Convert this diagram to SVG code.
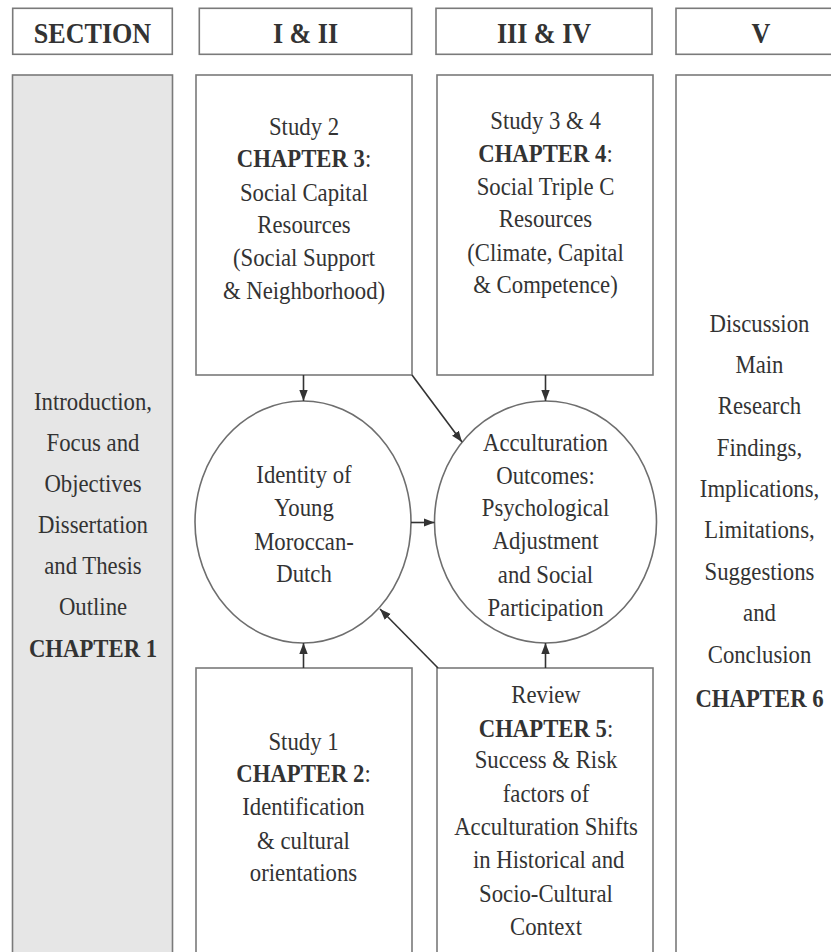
<svg xmlns="http://www.w3.org/2000/svg" width="831" height="952" viewBox="0 0 831 952">
<style>
.box{fill:#fff;stroke:#7a7a7a;stroke-width:1.6}
.grey{fill:#e6e6e6;stroke:#7a7a7a;stroke-width:1.6}
.ell{fill:#fff;stroke:#6e6e6e;stroke-width:1.6}
text{font-family:'Liberation Serif','Times New Roman',serif;fill:#333;text-anchor:middle}
.t{font-size:26px}
.h{font-size:29px;font-weight:bold}
.b{font-weight:bold}
.c{stroke:#333;stroke-width:1.6;fill:none;marker-end:url(#ah)}
</style>
<defs>
<marker id="ah" markerWidth="11" markerHeight="10" refX="11" refY="5" orient="auto" markerUnits="userSpaceOnUse">
<path d="M0,0.8 L11,5 L0,9.2 Z" fill="#333"/>
</marker>
</defs>
<rect width="831" height="952" fill="#fff"/>

<g id="hdr-section"><rect class="box" x="12.7" y="8.3" width="159.6" height="46"/><g transform="translate(92.5 0) scale(0.9 1)"><text class="h" x="0" y="42.7">SECTION</text></g></g>
<g id="hdr-1-2"><rect class="box" x="199.3" y="8.3" width="212.4" height="46"/><g transform="translate(305.5 0) scale(0.9 1)"><text class="h" x="0" y="42.7">I &amp; II</text></g></g>
<g id="hdr-3-4"><rect class="box" x="436" y="8.3" width="216" height="46"/><g transform="translate(544 0) scale(0.9 1)"><text class="h" x="0" y="42.7">III &amp; IV</text></g></g>
<g id="hdr-5"><rect class="box" x="676" y="8.3" width="170" height="46"/><g transform="translate(761 0) scale(0.9 1)"><text class="h" x="0" y="42.7">V</text></g></g>

<g id="intro">
<rect class="grey" x="12.5" y="75" width="160" height="890"/>
<g transform="translate(93 0) scale(0.875 1)">
<text class="t" x="0" y="410">Introduction,</text>
<text class="t" x="0" y="451">Focus and</text>
<text class="t" x="0" y="492">Objectives</text>
<text class="t" x="0" y="533">Dissertation</text>
<text class="t" x="0" y="574">and Thesis</text>
<text class="t" x="0" y="615">Outline</text>
<text class="t b" x="0" y="657">CHAPTER 1</text>
</g>
</g>

<g id="study2">
<rect class="box" x="196" y="75" width="216" height="300"/>
<g transform="translate(304 0) scale(0.875 1)">
<text class="t" x="0" y="135">Study 2</text>
<text class="t" x="0" y="167.5"><tspan class="b">CHAPTER 3</tspan>:</text>
<text class="t" x="0" y="201">Social Capital</text>
<text class="t" x="0" y="233.5">Resources</text>
<text class="t" x="0" y="266.5">(Social Support</text>
<text class="t" x="0" y="299">&amp; Neighborhood)</text>
</g>
</g>

<g id="study34">
<rect class="box" x="437" y="75" width="216" height="300"/>
<g transform="translate(545.5 0) scale(0.875 1)">
<text class="t" x="0" y="129">Study 3 &amp; 4</text>
<text class="t" x="0" y="161.7"><tspan class="b">CHAPTER 4</tspan>:</text>
<text class="t" x="0" y="195">Social Triple C</text>
<text class="t" x="0" y="227">Resources</text>
<text class="t" x="0" y="261">(Climate, Capital</text>
<text class="t" x="0" y="293.5">&amp; Competence)</text>
</g>
</g>

<g id="discussion">
<rect class="box" x="676" y="75" width="170" height="890"/>
<g transform="translate(759.5 0) scale(0.875 1)">
<text class="t" x="0" y="332">Discussion</text>
<text class="t" x="0" y="373.5">Main</text>
<text class="t" x="0" y="414.5">Research</text>
<text class="t" x="0" y="456">Findings,</text>
<text class="t" x="0" y="497">Implications,</text>
<text class="t" x="0" y="538.5">Limitations,</text>
<text class="t" x="0" y="580">Suggestions</text>
<text class="t" x="0" y="621.5">and</text>
<text class="t" x="0" y="663">Conclusion</text>
<text class="t b" x="0" y="707.5">CHAPTER 6</text>
</g>
</g>

<g id="identity">
<ellipse class="ell" cx="303" cy="522" rx="108" ry="121"/>
<g transform="translate(304 0) scale(0.875 1)">
<text class="t" x="0" y="483.5">Identity of</text>
<text class="t" x="0" y="516.5">Young</text>
<text class="t" x="0" y="550">Moroccan-</text>
<text class="t" x="0" y="582">Dutch</text>
</g>
</g>

<g id="outcomes">
<ellipse class="ell" cx="545.5" cy="522" rx="111" ry="121"/>
<g transform="translate(545.5 0) scale(0.875 1)">
<text class="t" x="0" y="451">Acculturation</text>
<text class="t" x="0" y="484">Outcomes:</text>
<text class="t" x="0" y="516.5">Psychological</text>
<text class="t" x="0" y="549.5">Adjustment</text>
<text class="t" x="0" y="583">and Social</text>
<text class="t" x="0" y="616">Participation</text>
</g>
</g>

<g id="study1">
<rect class="box" x="196" y="668" width="216" height="300"/>
<g transform="translate(303.5 0) scale(0.875 1)">
<text class="t" x="0" y="750">Study 1</text>
<text class="t" x="0" y="782"><tspan class="b">CHAPTER 2</tspan>:</text>
<text class="t" x="0" y="815">Identification</text>
<text class="t" x="0" y="849">&amp; cultural</text>
<text class="t" x="0" y="881.5">orientations</text>
</g>
</g>

<g id="review">
<rect class="box" x="437" y="668" width="216" height="300"/>
<g transform="translate(546 0) scale(0.875 1)">
<text class="t" x="0" y="703.5">Review</text>
<text class="t" x="0" y="736.7"><tspan class="b">CHAPTER 5</tspan>:</text>
<text class="t" x="0" y="768.5">Success &amp; Risk</text>
<text class="t" x="0" y="801.7">factors of</text>
<text class="t" x="0" y="835">Acculturation Shifts</text>
<text class="t" x="3" y="868.3">in Historical and</text>
<text class="t" x="0" y="901.7">Socio-Cultural</text>
<text class="t" x="0" y="935">Context</text>
</g>
</g>

<g id="connectors">
<line class="c" x1="303.5" y1="375" x2="303.5" y2="401"/>
<line class="c" x1="545.5" y1="375" x2="545.5" y2="401"/>
<line class="c" x1="411" y1="522.5" x2="434.5" y2="522.5"/>
<line class="c" x1="303.5" y1="668" x2="303.5" y2="643"/>
<line class="c" x1="545.5" y1="668" x2="545.5" y2="643"/>
<line class="c" x1="412" y1="375" x2="462" y2="442"/>
<line class="c" x1="438" y1="668" x2="380" y2="609"/>
</g>
</svg>
